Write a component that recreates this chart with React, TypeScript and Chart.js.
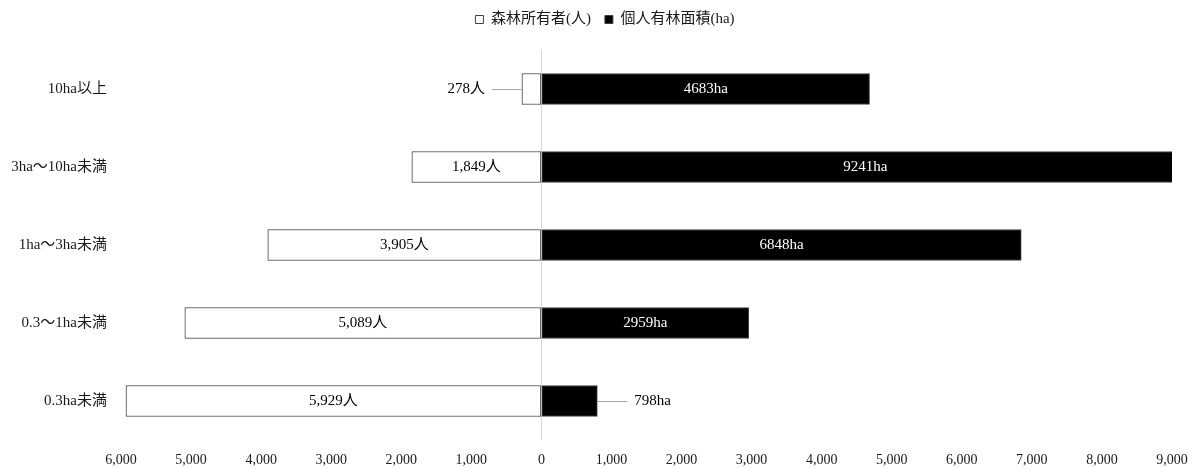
import React, { useEffect, useRef } from 'react';
import { Chart, registerables } from 'chart.js';

Chart.register(...registerables);

const categories = ['10ha以上', '3ha～10ha未満', '1ha～3ha未満', '0.3～1ha未満', '0.3ha未満'];
const ownerCounts = [278, 1849, 3905, 5089, 5929];
const privateForestArea = [4683, 9241, 6848, 2959, 798];
const seriesNames = ['森林所有者(人)', '個人有林面積(ha)'];
const xMin = -6000;
const xMax = 9000;
const xStep = 1000;

const FONT = '"Liberation Serif", "Noto Sans CJK JP", serif';

const labelPlugin = {
  id: 'barLabels',
  afterDatasetsDraw(chart: any) {
    const ctx = chart.ctx;
    ctx.save();
    ctx.font = `15px ${FONT}`;
    ctx.textBaseline = 'middle';
    chart.data.datasets.forEach((_ds: any, di: number) => {
      const meta = chart.getDatasetMeta(di);
      meta.data.forEach((bar: any, i: number) => {
        const { x, y, base } = bar.getProps(['x', 'y', 'base'], true);
        const raw = di === 0 ? ownerCounts[i] : privateForestArea[i];
        const text = di === 0 ? raw.toLocaleString('en-US') + '人' : raw + 'ha';
        const w = ctx.measureText(text).width;
        const len = Math.abs(x - base);
        const dir = x < base ? -1 : 1;
        const yy = Math.round(y);
        if (len < w + 24) {
          ctx.strokeStyle = '#a6a6a6';
          ctx.lineWidth = 1;
          ctx.beginPath();
          ctx.moveTo(x, yy + 0.5);
          ctx.lineTo(x + dir * 30, yy + 0.5);
          ctx.stroke();
          ctx.fillStyle = '#000';
          ctx.textAlign = dir < 0 ? 'right' : 'left';
          ctx.fillText(text, x + dir * 37, yy);
        } else {
          ctx.fillStyle = di === 0 ? '#000' : '#fff';
          ctx.textAlign = 'center';
          ctx.fillText(text, (x + base) / 2, yy);
        }
      });
    });
    ctx.restore();
  },
};

const legendPlugin = {
  id: 'legendFit',
  beforeUpdate(chart: any) {
    const lg = chart.legend;
    if (lg && !lg._patched) {
      const fit = lg.fit;
      lg.fit = function () {
        fit.call(this);
        this.height = 50;
      };
      lg._patched = true;
    }
  },
  afterLayout(chart: any) {
    const lg = chart.legend;
    if (lg) {
      lg.left += 19;
      lg.right += 19;
      lg.top -= 2;
      lg.bottom -= 2;
    }
  },
};

export default function App() {
  const ref = useRef<HTMLCanvasElement | null>(null);

  useEffect(() => {
    if (!ref.current) return;
    const chart = new Chart(ref.current, {
      type: 'bar',
      data: {
        labels: categories,
        datasets: [
          {
            label: seriesNames[0],
            data: ownerCounts.map((v) => -v),
            backgroundColor: '#ffffff',
            borderColor: '#404040',
            borderWidth: 1,
            borderSkipped: false,
            barThickness: 31,
          },
          {
            label: seriesNames[1],
            data: privateForestArea,
            backgroundColor: '#000000',
            borderColor: '#404040',
            borderWidth: 1,
            borderSkipped: false,
            barThickness: 31,
          },
        ],
      },
      options: {
        indexAxis: 'y',
        responsive: false,
        animation: false,
        layout: { padding: { left: 0, right: 24, top: 0, bottom: 0 } },
        scales: {
          x: {
            type: 'linear',
            stacked: true,
            min: xMin,
            max: xMax,
            ticks: {
              stepSize: xStep,
              padding: 12,
              color: '#1a1a1a',
              font: { family: FONT, size: 14 },
              callback: (v: any) => Math.abs(Number(v)).toLocaleString('en-US'),
            },
            grid: {
              drawTicks: false,
              color: (c: any) => (c.tick && c.tick.value === 0 ? '#d9d9d9' : 'rgba(0,0,0,0)'),
              lineWidth: 1,
            },
            border: { display: false },
            afterFit: (s: any) => {
              s.height = 28;
              s.paddingLeft = 0;
              s.paddingRight = 0;
            },
          },
          y: {
            stacked: true,
            ticks: {
              padding: 14,
              color: '#1a1a1a',
              font: { family: FONT, size: 15 },
            },
            grid: { display: false, drawTicks: false },
            border: { display: false },
            afterFit: (s: any) => {
              s.width = 121;
            },
          },
        },
        plugins: {
          legend: {
            position: 'top',
            labels: {
              boxWidth: 8,
              boxHeight: 8,
              padding: 14,
              color: '#1a1a1a',
              font: { family: FONT, size: 15 },
            },
          },
          tooltip: { enabled: false },
        },
      } as any,
      plugins: [labelPlugin, legendPlugin],
    });
    return () => chart.destroy();
  }, []);

  return (
    <div style={{ position: 'fixed', left: 0, top: 0, width: 1196, height: 468, background: '#fff' }}>
      <canvas ref={ref} width={1196} height={468} style={{ width: 1196, height: 468, display: 'block' }} />
    </div>
  );
}
